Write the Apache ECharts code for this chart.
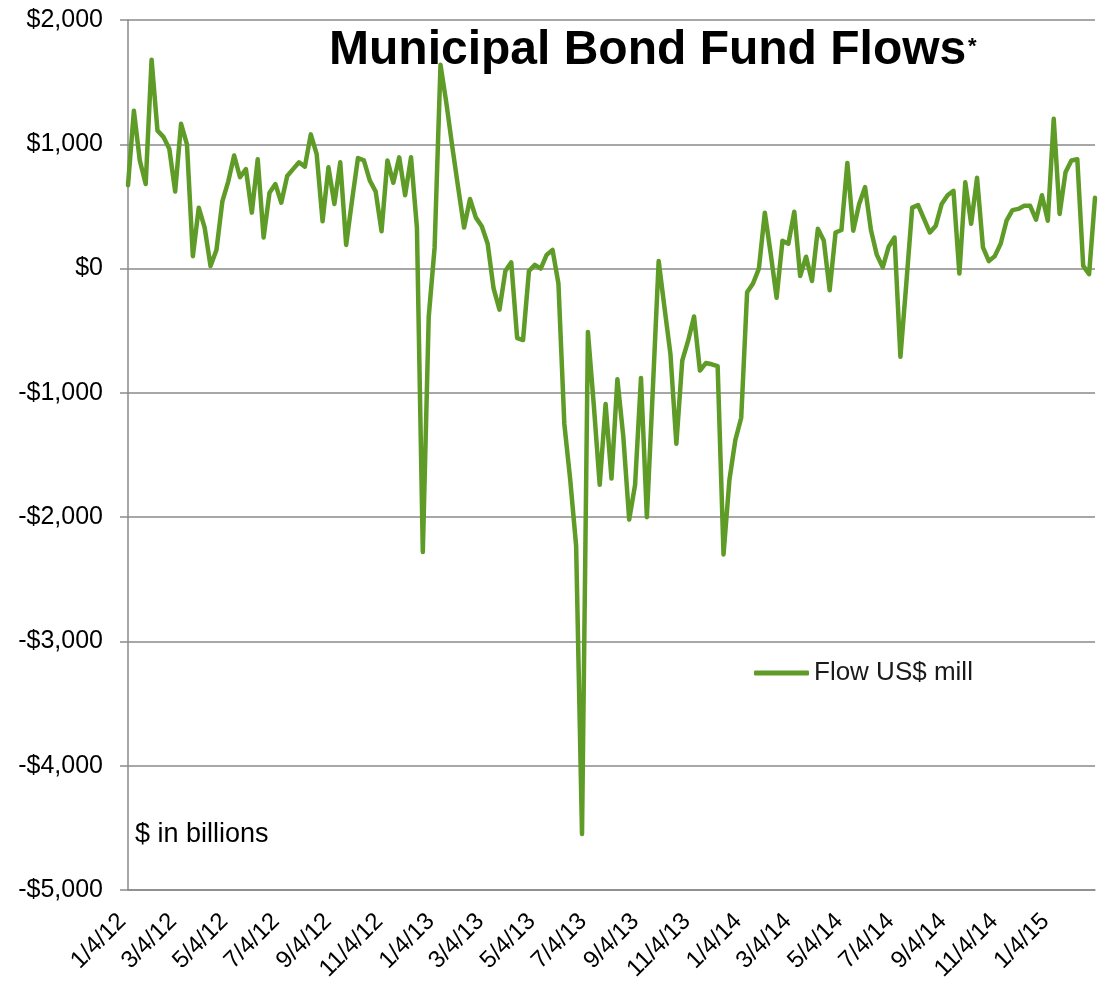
<!DOCTYPE html>
<html>
<head>
<meta charset="utf-8">
<script src="https://cdn.jsdelivr.net/npm/echarts@6/dist/echarts.min.js"></script>
<style>
  html, body { margin: 0; padding: 0; background: #ffffff; }
  #chart { width: 1101px; height: 987px; }
</style>
</head>
<body>
<div id="chart"></div>
<script>
// ---- data ----
var firstWeek = [2012, 1, 4];          // first weekly observation (Y, M, D)
var seriesName = 'Flow US$ mill';
var flowValues = [
  670, 1270, 870, 680, 1680, 1110, 1060, 965, 620, 1165,
  1000, 100, 490, 330, 20, 150, 540, 700, 910, 735,
  800, 450, 880, 250, 610, 680, 530, 745, 800, 855,
  820, 1080, 920, 380, 815, 520, 855, 190, 550, 890,
  870, 710, 620, 300, 870, 690, 895, 590, 895, 330,
  -2280, -390, 170, 1640, 1330, 980, 650, 330, 560, 410,
  340, 200, -160, -330, -20, 50, -560, -575, -20, 30,
  0, 110, 150, -120, -1250, -1700, -2230, -4550, -510, -1100,
  -1740, -1090, -1690, -890, -1350, -2020, -1740, -880, -2000, -980,
  60, -320, -690, -1410, -740, -580, -385, -820, -760, -770,
  -785, -2300, -1700, -1380, -1200, -190, -120, 0, 450, 120,
  -234, 223, 200, 457, -60, 95, -100, 320, 225, -175,
  290, 310, 850, 305, 520, 655, 310, 110, 10, 175,
  250, -710, -120, 490, 510, 400, 290, 345, 520, 590,
  625, -40, 695, 360, 730, 170, 60, 100, 200, 385,
  470, 480, 505, 505, 393, 590, 385, 1205, 440, 775,
  870, 880, 22, -45, 570
];
var xLabelDates = [
  '2012-01-04', '2012-03-04', '2012-05-04', '2012-07-04', '2012-09-04', '2012-11-04',
  '2013-01-04', '2013-03-04', '2013-05-04', '2013-07-04', '2013-09-04', '2013-11-04',
  '2014-01-04', '2014-03-04', '2014-05-04', '2014-07-04', '2014-09-04', '2014-11-04',
  '2015-01-04'
];
var yMin = -5000, yMax = 2000, yStep = 1000;
var titleText = 'Municipal Bond Fund Flows';
var noteText = '$ in billions';

// ---- build ----
function parseYMD(s) {
  var p = s.split('-');
  return new Date(+p[0], +p[1] - 1, +p[2]).getTime();
}
var weekDates = flowValues.map(function (v, i) {
  return new Date(firstWeek[0], firstWeek[1] - 1, firstWeek[2] + 7 * i).getTime();
});
var seriesData = flowValues.map(function (v, i) { return [weekDates[i], v]; });
var labelTimes = xLabelDates.map(parseYMD);

function fmtMoney(v) {
  var s = Math.abs(v).toLocaleString('en-US');
  return (v < 0 ? '-$' : '$') + s;
}
function fmtDate(t) {
  var d = new Date(t);
  return (d.getMonth() + 1) + '/' + d.getDate() + '/' + String(d.getFullYear()).slice(2);
}

var gray = '#8a8a8a';
var green = '#5e9b27';
var font = 'Liberation Sans, Arial, sans-serif';

var chart = echarts.init(document.getElementById('chart'), null, { renderer: 'canvas' });
chart.setOption({
  animation: false,
  backgroundColor: '#ffffff',
  textStyle: { fontFamily: font },
  grid: { left: 128, right: 6, top: 20, bottom: 97, containLabel: false },
  title: {
    text: titleText,
    left: 324,
    top: 22,
    textStyle: { fontSize: 48, fontWeight: 'bold', color: '#000', fontFamily: font }
  },
  legend: {
    data: [seriesName],
    left: 749,
    top: 655,
    icon: 'roundRect',
    itemWidth: 55,
    itemHeight: 5,
    textStyle: { fontSize: 26, color: '#1a1a1a', fontFamily: font }
  },
  xAxis: {
    type: 'value',
    min: weekDates[0],
    max: weekDates[weekDates.length - 1],
    scale: true,
    axisLine: { show: true, onZero: false, lineStyle: { color: gray, width: 1.5 } },
    axisTick: { show: false },
    splitLine: { show: false },
    axisLabel: {
      customValues: labelTimes,
      formatter: function (v) { return fmtDate(v); },
      rotate: 45,
      margin: 22,
      padding: [0, 8, 0, 0],
      fontSize: 24,
      color: '#000',
      fontFamily: font,
      hideOverlap: false
    }
  },
  yAxis: {
    type: 'value',
    min: yMin,
    max: yMax,
    interval: yStep,
    axisLine: { show: true, lineStyle: { color: gray, width: 1.5 } },
    axisTick: { show: true, length: 8, inside: false, lineStyle: { color: gray, width: 1.5 } },
    splitLine: { show: true, lineStyle: { color: gray, width: 1.5 } },
    axisLabel: {
      formatter: fmtMoney,
      margin: 25,
      fontSize: 25,
      color: '#000',
      fontFamily: font
    }
  },
  series: [{
    name: seriesName,
    type: 'line',
    data: seriesData,
    symbol: 'none',
    showSymbol: false,
    lineStyle: { color: green, width: 4.5, join: 'round', cap: 'round' },
    itemStyle: { color: green }
  }],
  graphic: [
    {
      type: 'text',
      left: 968,
      top: 36,
      style: { text: '*', fontSize: 22, fontWeight: 'bold', fill: '#000', fontFamily: font }
    },
    {
      type: 'text',
      left: 135,
      top: 821,
      style: { text: noteText, fontSize: 27, fill: '#000', fontFamily: font }
    }
  ]
});
</script>
</body>
</html>
